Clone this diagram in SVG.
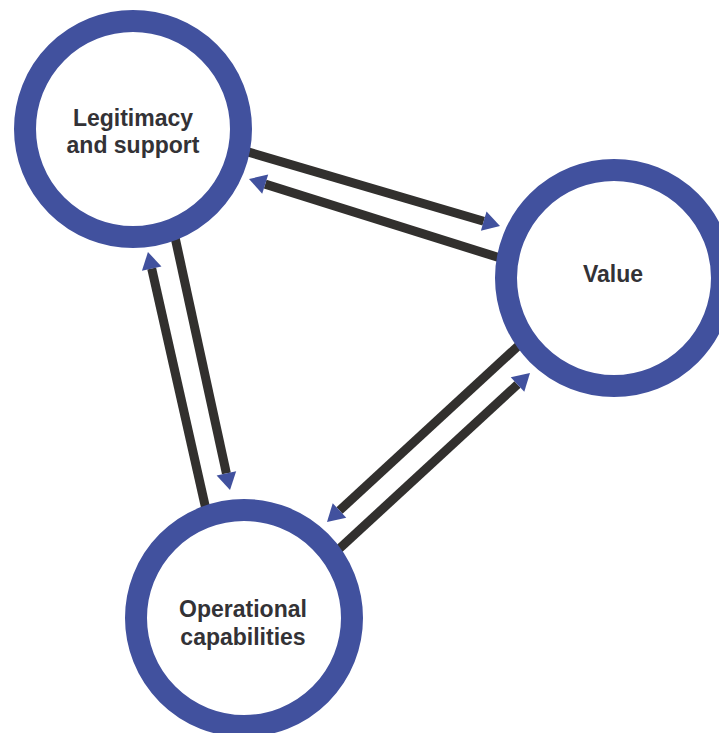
<svg xmlns="http://www.w3.org/2000/svg" width="719" height="733" viewBox="0 0 719 733">
  <style>
    .ring { fill: #ffffff; stroke: #41519e; stroke-width: 22; }
    .label { font-family: "Liberation Sans", Arial, sans-serif; font-weight: bold; font-size: 23px; fill: #333236; text-anchor: middle; }
    .flow { stroke: #32302e; stroke-width: 9; fill: none; marker-end: url(#head); }
  </style>
  <defs>
    <marker id="head" markerUnits="userSpaceOnUse" markerWidth="18" markerHeight="22" refX="0" refY="10" orient="auto" overflow="visible">
      <path d="M0,0 L17,10 L0,20 Z" fill="#41519e"/>
    </marker>
  </defs>
  <rect width="719" height="733" fill="#ffffff"/>

  <!-- connectors between the three elements -->
  <g id="connectors">
    <line class="flow" x1="240" y1="149.6" x2="483.7" y2="221.2"/>
    <line class="flow" x1="505" y1="259.5" x2="265.2" y2="184.1"/>
    <line class="flow" x1="173" y1="228" x2="226.4" y2="473.4"/>
    <line class="flow" x1="207" y1="514" x2="151.7" y2="268.6"/>
    <line class="flow" x1="523" y1="341.5" x2="339.5" y2="510.5"/>
    <line class="flow" x1="333" y1="554.5" x2="517.5" y2="384.5"/>
  </g>

  <g id="legitimacy">
    <circle class="ring" cx="133" cy="129" r="108"/>
    <text class="label" x="133" y="126">Legitimacy</text>
    <text class="label" x="133" y="153">and support</text>
  </g>

  <g id="value">
    <circle class="ring" cx="614" cy="278" r="108"/>
    <text class="label" x="613" y="282">Value</text>
  </g>

  <g id="operational">
    <circle class="ring" cx="244" cy="618" r="108"/>
    <text class="label" x="243" y="617">Operational</text>
    <text class="label" x="243" y="645">capabilities</text>
  </g>
</svg>
